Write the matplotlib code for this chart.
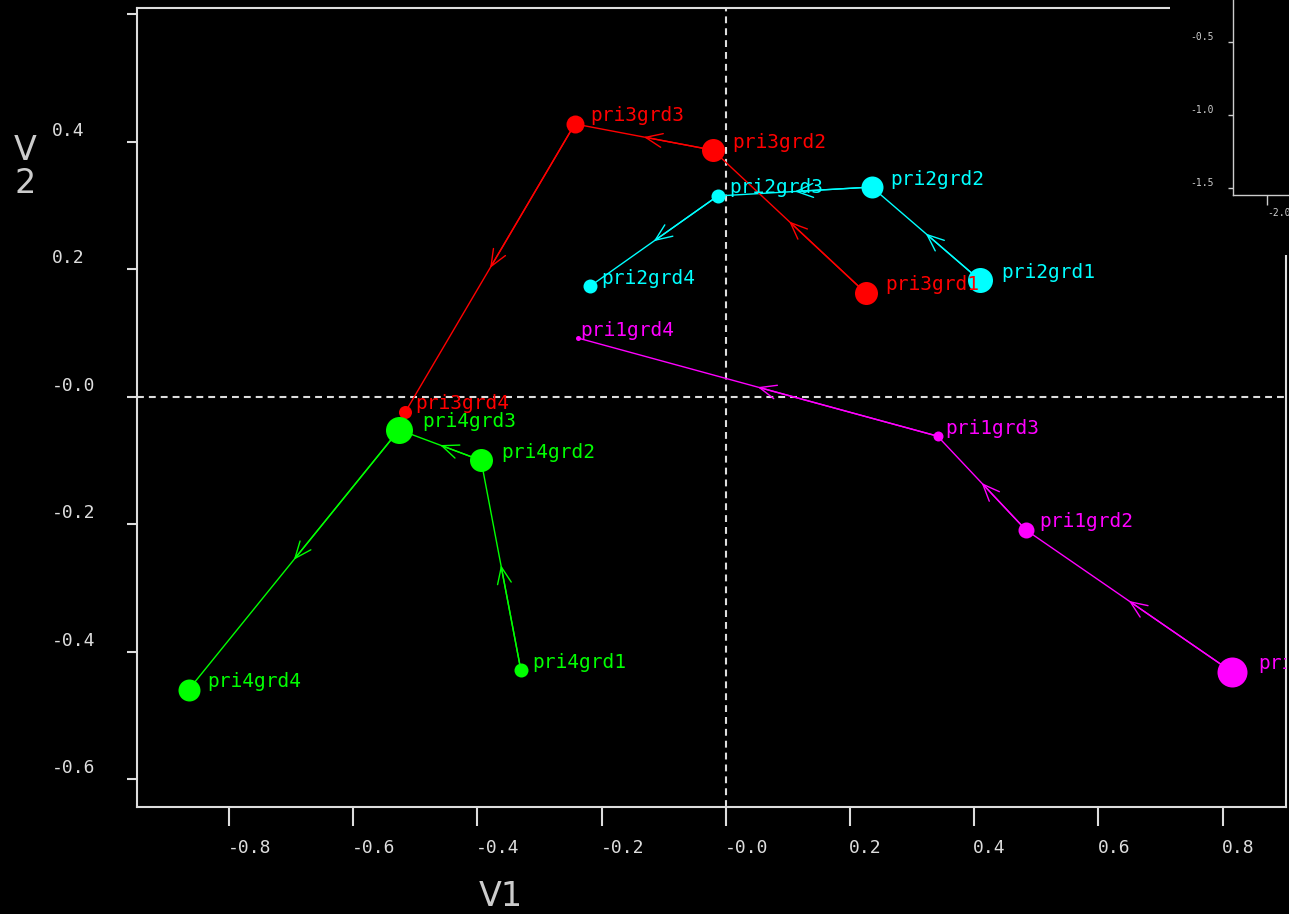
import matplotlib
matplotlib.use('Agg')
import matplotlib.pyplot as plt
from matplotlib.transforms import ScaledTranslation

# coordinates of each group on the first two axes, grades 1..4
grades = ['grd1', 'grd2', 'grd3', 'grd4']

pri1_v1 = [0.815, 0.483, 0.341, -0.238]
pri1_v2 = [-0.432, -0.209, -0.062, 0.092]
pri1_wt = [30, 16, 10, 5]

pri2_v1 = [0.409, 0.235, -0.013, -0.219]
pri2_v2 = [0.183, 0.329, 0.315, 0.173]
pri2_wt = [25, 22, 14, 14]

pri3_v1 = [0.225, -0.021, -0.243, -0.516]
pri3_v2 = [0.163, 0.387, 0.428, -0.024]
pri3_wt = [23, 23, 18, 13]

pri4_v1 = [-0.330, -0.394, -0.526, -0.865]
pri4_v2 = [-0.429, -0.100, -0.052, -0.460]
pri4_wt = [14, 23, 27, 22]

groups = [
    ('pri1', pri1_v1, pri1_v2, pri1_wt, '#ff00ff'),
    ('pri2', pri2_v1, pri2_v2, pri2_wt, '#00ffff'),
    ('pri3', pri3_v1, pri3_v2, pri3_wt, '#ff0000'),
    ('pri4', pri4_v1, pri4_v2, pri4_wt, '#00ff00'),
]

x_ticks = [-0.8, -0.6, -0.4, -0.2, 0.0, 0.2, 0.4, 0.6, 0.8]
x_tick_labels = ['-0.8', '-0.6', '-0.4', '-0.2', '-0.0', '0.2', '0.4', '0.6', '0.8']
y_ticks = [-0.6, -0.4, -0.2, 0.0, 0.2, 0.4, 0.6]
y_tick_labels = ['-0.6', '-0.4', '-0.2', '-0.0', '0.2', '0.4', '']

inset_y_ticks = [-0.5, -1.0, -1.5]
inset_y_labels = ['-0.5', '-1.0', '-1.5']
inset_x_ticks = [-2.0]
inset_x_labels = ['-2.0']

W, H = 1289, 914
FG = '#dddddd'
MONO = 'DejaVu Sans Mono'
PX = 72 / 100  # points per pixel at dpi 100

fig = plt.figure(figsize=(W / 100, H / 100), dpi=100, facecolor='black')


def shift(labels, dx, dy):
    for lab in labels:
        lab.set_transform(lab.get_transform() +
                          ScaledTranslation(dx / 100, dy / 100, fig.dpi_scale_trans))


ax = fig.add_axes([137 / W, 1 - 807 / H, (1286 - 137) / W, (807 - 8) / H])
ax.set_facecolor('black')
ax.set_xlim(-0.948, 0.902)
ax.set_ylim(-0.644, 0.610)

for s in ax.spines.values():
    s.set_color(FG)
    s.set_linewidth(1.5)

ax.axvline(0, color=FG, lw=1.5, ls=(0, (3.3, 2.4)), zorder=1)
ax.axhline(0, color=FG, lw=1.5, ls=(0, (3.3, 2.4)), zorder=1)

for name, xs, ys, wt, c in groups:
    ax.plot(xs, ys, color=c, lw=1.0, zorder=2)
    # open arrowheads at the middle of each segment, pointing to the next grade
    for i in range(len(xs) - 1):
        mid = ((xs[i] + xs[i + 1]) / 2, (ys[i] + ys[i + 1]) / 2)
        ax.annotate('', xy=mid, xytext=(xs[i], ys[i]),
                    arrowprops=dict(arrowstyle='->,head_length=1.2,head_width=0.5',
                                    color=c, lw=1.0, shrinkA=0, shrinkB=0,
                                    mutation_scale=10), zorder=2)
    for x, y, d, g in zip(xs, ys, wt, grades):
        ax.plot([x], [y], 'o', ms=d * PX, color=c, mec='none', zorder=3)
        ax.annotate(name + g, (x, y), xytext=((0.95 * d - 2) * PX, 8 * PX),
                    textcoords='offset points', ha='left', va='center',
                    color=c, fontsize=14, family=MONO, clip_on=True, zorder=4)

ax.set_xticks(x_ticks, x_tick_labels)
ax.set_yticks(y_ticks, y_tick_labels)
ax.tick_params(axis='x', direction='out', length=19 * PX, width=1.5, color=FG,
               pad=13 * PX, labelcolor=FG, labelsize=13)
ax.tick_params(axis='y', direction='out', length=10 * PX, width=1.5, color=FG,
               pad=0, labelcolor=FG, labelsize=13)
for lab in ax.get_xticklabels():
    lab.set_family(MONO)
    lab.set_ha('left')
for lab in ax.get_yticklabels():
    lab.set_family(MONO)
    lab.set_ha('left')
shift(ax.get_xticklabels(), -1, 0)
shift(ax.get_yticklabels(), -75, 13)

ax.set_xlabel('V1', color='#cccccc', fontsize=24, va='center')
ax.xaxis.set_label_coords((501 - 137) / 1149, (807 - 897) / 799)
ax.set_ylabel('V\n2', color='#cccccc', fontsize=24, rotation=0,
              va='center', ha='center', linespacing=1.0)
ax.yaxis.set_label_coords((25 - 137) / 1149, (807 - 167) / 799)

# second panel peeking in at the top right corner
cover = fig.add_axes([1170 / W, 1 - 255 / H, 119 / W, 255 / H])
cover.set_facecolor('black')
cover.set_xticks([])
cover.set_yticks([])
for s in cover.spines.values():
    s.set_visible(False)

inset = fig.add_axes([1233 / W, 1 - 195 / H, 56 / W, 195 / H])
inset.set_facecolor('black')
inset.set_xlim(-2.233, -1.849)
inset.set_ylim(-1.548, -0.212)
inset.spines['top'].set_visible(False)
inset.spines['right'].set_visible(False)
for s in ('left', 'bottom'):
    inset.spines[s].set_color('#cccccc')
    inset.spines[s].set_linewidth(1.0)
inset.set_xticks(inset_x_ticks, inset_x_labels)
inset.set_yticks(inset_y_ticks, inset_y_labels)
inset.tick_params(axis='x', direction='out', length=10 * PX, width=1.0, color='#cccccc',
                  pad=3 * PX, labelcolor='#cccccc', labelsize=7)
inset.tick_params(axis='y', direction='out', length=5 * PX, width=1.0, color='#cccccc',
                  pad=0, labelcolor='#cccccc', labelsize=7)
for lab in inset.get_xticklabels():
    lab.set_family(MONO)
    lab.set_ha('left')
for lab in inset.get_yticklabels():
    lab.set_family(MONO)
    lab.set_ha('left')
shift(inset.get_yticklabels(), -(1228 - 1190), 6)

fig.savefig('out.png', dpi=100, facecolor='black')
